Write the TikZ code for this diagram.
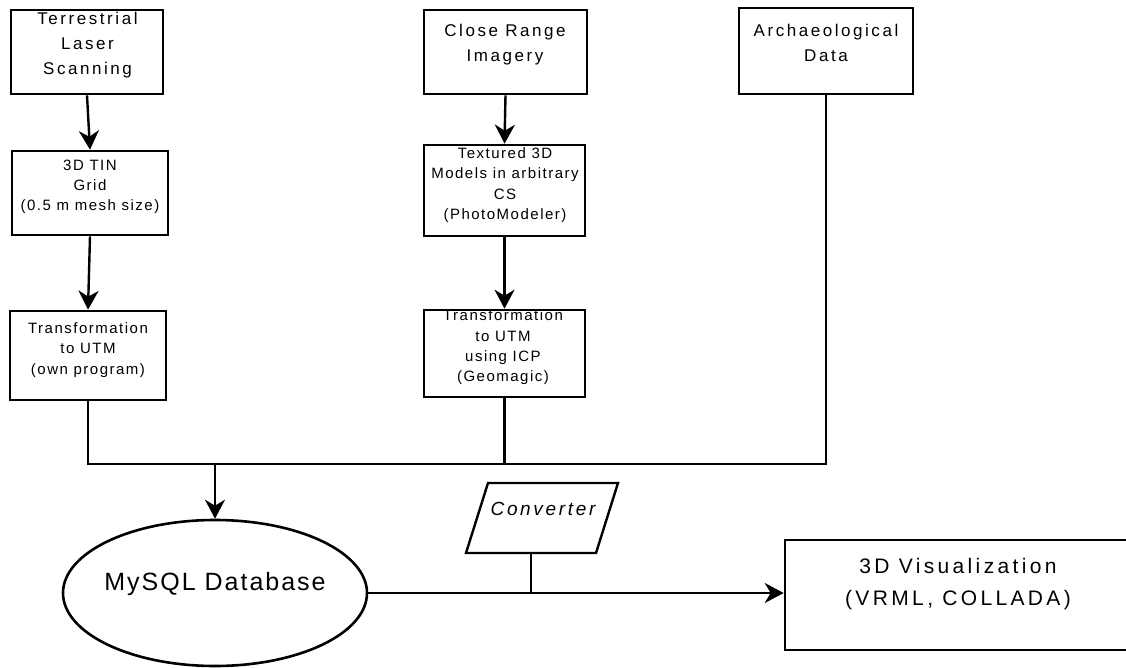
\documentclass[tikz,border=0pt]{standalone}
\usepackage{fontspec}
\setmainfont{Liberation Sans}
\newfontfamily\bigf[LetterSpace=15]{Liberation Sans}
\newfontfamily\smallf[LetterSpace=10]{Liberation Sans}
\newfontfamily\dbf[LetterSpace=8]{Liberation Sans}
\newfontfamily\vizf[LetterSpace=16]{Liberation Sans}
\newfontfamily\convf[LetterSpace=14]{Liberation Sans}
\usetikzlibrary{arrows.meta,shapes.geometric}
\begin{document}
\begin{tikzpicture}[x=1pt,y=-1pt,
  box/.style={draw, line width=2.6pt, inner sep=0pt},
  bigtxt/.style={font=\bigf\fontsize{17}{25}\selectfont, align=center, inner sep=0pt},
  smalltxt/.style={font=\smallf\fontsize{15}{20.3}\selectfont, align=center, inner sep=0pt},
  conn/.style={line width=2.4pt},
  arr/.style={line width=2.4pt, -{Stealth[length=19pt,width=20pt,inset=6pt]}},
  bus/.style={line width=2.2pt}]
\clip (0,0) rectangle (1126,668);
\fill[white] (0,0) rectangle (1126,668);
% boxes
\node[box, minimum width=152pt, minimum height=84pt] (tls) at (87,52) {};
\node[bigtxt] at (87.5,45) {Terrestrial\\Laser\\Scanning};
\node[box, minimum width=156pt, minimum height=84pt] (tin) at (90,193) {};
\node[smalltxt] at (90,187) {3D TIN\\Grid\\(0.5 m mesh size)};
\node[box, minimum width=156pt, minimum height=89pt] (tr1) at (88,355.5) {};
\node[smalltxt] at (88,350) {Transformation\\to UTM\\(own program)};
\node[box, minimum width=163pt, minimum height=84pt] (cri) at (505.5,52) {};
\node[bigtxt] at (505,44.5) {Close Range\\Imagery};
\node[box, minimum width=161pt, minimum height=91pt] (tex) at (504.5,190.5) {};
\node[smalltxt] at (505,185) {Textured 3D\\Models in arbitrary\\CS\\(PhotoModeler)};
\node[box, minimum width=161pt, minimum height=87pt] (tr2) at (504.5,353.5) {};
\node[smalltxt] at (503,347.5) {Transformation\\to UTM\\using ICP\\(Geomagic)};
\node[box, minimum width=174pt, minimum height=86pt] (arc) at (826,51) {};
\node[bigtxt] at (826,42.5) {Archaeological\\Data};
\node[box, ellipse, minimum width=304pt, minimum height=146pt] (db) at (215,593) {};
\node[font=\dbf\fontsize{25}{30}\selectfont, inner sep=0pt] at (215,584) {MySQL Database};
\node[box, minimum width=360pt, minimum height=110pt] (viz) at (965,595) {};
\node[font=\vizf\fontsize{21}{32}\selectfont, align=center, inner sep=0pt] at (958,584) {3D Visualization\\(VRML, COLLADA)};
% converter parallelogram
\draw[line width=2.4pt, line join=miter] (488,483) -- (618,483) -- (596,553) -- (466,553) -- cycle;
\node[font=\convf\itshape\fontsize{19}{22}\selectfont, inner sep=0pt] (conv) at (543,509) {Converter};
\coordinate (convb) at (531,553);
% connectors
\draw[arr] (tls.south) -- (tin.north);
\draw[arr] (tin.south) -- (tr1.north);
\draw[arr] (cri.south) -- (tex.north);
\draw[arr] (tex.south) -- (tr2.north);
\coordinate (busl) at (88,464);
\coordinate (busr) at (826,464);
\draw[bus, line join=miter] (tr1.south) -- (busl) -- (busr) -- (arc.south);
\draw[conn] (tr2.south) -- (tr2.south |- busl);
\coordinate (busdb) at (215,464);
\draw[arr] (busdb) -- (db.north);
\draw[arr] (db.east) -- (db.east -| viz.west);
\draw[conn] (convb) -- (convb |- db.east);
\end{tikzpicture}
\end{document}
